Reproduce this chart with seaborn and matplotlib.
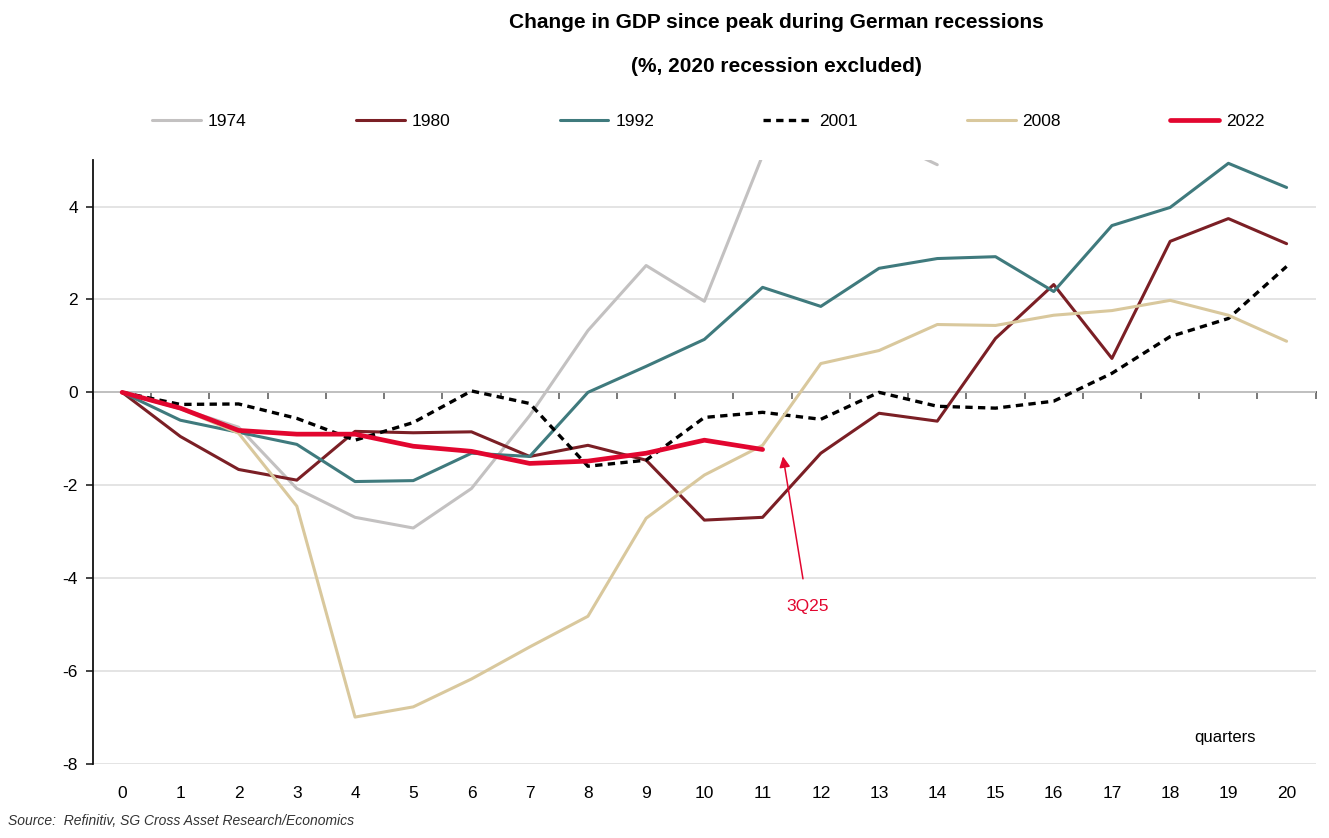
import numpy as np
import pandas as pd
import matplotlib
matplotlib.use("Agg")
import matplotlib.pyplot as plt
import seaborn as sns

# Data, % change in GDP since peak
quarters = list(range(21))
gdp_1974 = [0, -0.35, -0.75, -2.07, -2.69, -2.92, -2.07, -0.5, 1.33, 2.73, 1.96, 5.1, 5.8, 5.5, 4.9]
gdp_1980 = [0, -0.95, -1.66, -1.89, -0.84, -0.87, -0.85, -1.38, -1.14, -1.46, -2.75, -2.69,
            -1.31, -0.45, -0.62, 1.16, 2.32, 0.73, 3.25, 3.74, 3.2]
gdp_1992 = [0, -0.6, -0.86, -1.12, -1.92, -1.9, -1.31, -1.38, 0.0, 0.56, 1.14, 2.26,
            1.85, 2.67, 2.88, 2.92, 2.17, 3.59, 3.98, 4.93, 4.41]
gdp_2001 = [0, -0.26, -0.25, -0.56, -1.03, -0.65, 0.03, -0.24, -1.59, -1.46, -0.54, -0.43,
            -0.58, 0.0, -0.3, -0.34, -0.19, 0.41, 1.2, 1.59, 2.71]
gdp_2008 = [0, -0.35, -0.88, -2.45, -6.99, -6.77, -6.17, -5.48, -4.82, -2.71, -1.78, -1.14,
            0.62, 0.9, 1.46, 1.44, 1.66, 1.76, 1.98, 1.66, 1.1]
gdp_2022 = [0, -0.34, -0.82, -0.9, -0.9, -1.16, -1.27, -1.53, -1.48, -1.31, -1.03, -1.23]

series = {"1974": gdp_1974, "1980": gdp_1980, "1992": gdp_1992,
          "2001": gdp_2001, "2008": gdp_2008, "2022": gdp_2022}
rows = []
for name, vals in series.items():
    for q, v in zip(quarters, vals):
        rows.append({"quarter": q, "change": v, "recession": name})
df = pd.DataFrame(rows)

palette = {"1974": "#c3c1c1", "1980": "#7b1f25", "1992": "#3f7a7d",
           "2001": "#000000", "2008": "#d9c89d", "2022": "#e2062f"}
dashes = {"1974": "", "1980": "", "1992": "", "2001": (2.2, 1.6), "2008": "", "2022": ""}
sizes = {"1974": 2.2, "1980": 2.2, "1992": 2.2, "2001": 2.4, "2008": 2.2, "2022": 3.4}

sns.set_theme(style="white")
plt.rcParams["font.family"] = ["Liberation Sans", "DejaVu Sans"]
plt.rcParams["axes.unicode_minus"] = False
plt.rcParams["text.color"] = "black"
plt.rcParams["xtick.color"] = "black"
plt.rcParams["ytick.color"] = "black"

fig = plt.figure(figsize=(13.29, 8.38), dpi=100)
ax = fig.add_axes([0.070, 0.0883, 0.920, 0.7207])

sns.lineplot(data=df, x="quarter", y="change", hue="recession", style="recession",
             size="recession", palette=palette, dashes=dashes, sizes=sizes,
             ax=ax, legend="full")

ax.set_xlim(-0.5, 20.5)
ax.set_ylim(-8, 5)
ax.set_yticks(np.arange(-8, 5, 2))
ax.set_xticks(quarters)
ax.set_xlabel("")
ax.set_ylabel("")
ax.grid(axis="y", color="#dddddd", linewidth=1.1)
ax.set_axisbelow(True)
for side in ["top", "right", "bottom"]:
    ax.spines[side].set_visible(False)
ax.spines["left"].set_color("#111111")
ax.spines["left"].set_linewidth(1.3)
ax.tick_params(axis="y", left=True, length=5, width=1.1, color="#111111",
               labelsize=12.5, pad=6)
ax.tick_params(axis="x", bottom=False, labelsize=12.5, pad=10)

# zero axis line with category tick marks between quarters
zero_ax = ax.secondary_xaxis(8 / 13)
zero_ax.set_xticks(np.arange(-0.5, 21, 1))
zero_ax.set_xticklabels([])
zero_ax.xaxis.set_ticks_position("bottom")
zero_ax.tick_params(axis="x", bottom=True, top=False, length=5, width=1.1,
                    color="#555555", direction="out")
for sp in zero_ax.spines.values():
    sp.set_color("#555555")
    sp.set_linewidth(1.3)

# legend above the plot
handles, labels = ax.get_legend_handles_labels()
ax.legend_.remove()
fig.legend(handles, labels, loc="center", bbox_to_anchor=(0.533, 0.855), ncol=6,
           frameon=False, fontsize=12.5, handlelength=2.8, handletextpad=0.4,
           columnspacing=6.3)

ax.annotate("3Q25", xy=(11.35, -1.38), xytext=(11.77, -4.6), color="#e2062f",
            fontsize=12.5, ha="center", va="center",
            arrowprops=dict(arrowstyle="-|>", color="#e2062f", lw=1.1,
                            mutation_scale=16, shrinkA=12, shrinkB=0))
ax.text(18.95, -7.44, "quarters", fontsize=12, ha="center", va="center")

fig.text(0.584, 0.985, "Change in GDP since peak during German recessions",
         ha="center", va="top", fontsize=15, fontweight="heavy")
fig.text(0.584, 0.932, "(%, 2020 recession excluded)",
         ha="center", va="top", fontsize=15, fontweight="heavy")
fig.text(0.006, 0.012, "Source:  Refinitiv, SG Cross Asset Research/Economics",
         ha="left", va="bottom", fontsize=10, style="italic", color="#333333")

fig.savefig("out.png", dpi=100)
